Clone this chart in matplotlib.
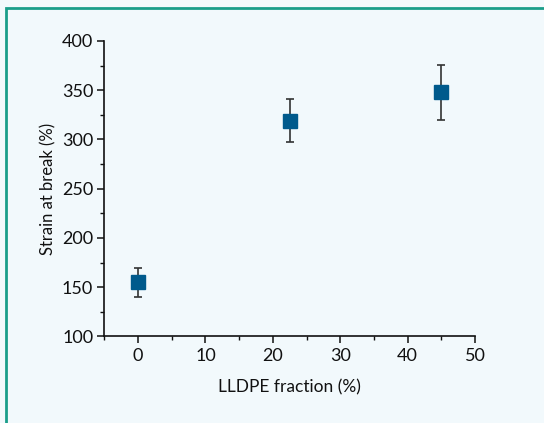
import matplotlib
matplotlib.use("Agg")
import matplotlib.pyplot as plt
from matplotlib.patches import Rectangle
from matplotlib.ticker import MultipleLocator

# LLDPE content vs. elongation at break
lldpe_frac = [0, 22.5, 45]
strain = [155, 319, 348]
strain_err = [15, 22, 28]

plt.rcParams['font.family'] = ['Lato', 'DejaVu Sans']

BG = '#f2f9fc'
fig = plt.figure(figsize=(5.44, 4.23), dpi=100, facecolor=BG)

# teal panel frame (open on the right and bottom edges)
fig.patches.append(Rectangle((6 / 544, -0.1), 1.2, 1.1 - 8 / 423,
                             transform=fig.transFigure, fill=False,
                             edgecolor='#1a9e8a', linewidth=2.0, zorder=0))

ax = fig.add_axes([0.1917, 0.2045, 0.6815, 0.6986])
ax.set_facecolor(BG)

ax.errorbar(lldpe_frac, strain, yerr=strain_err, fmt='s', color='#005a8c',
            markersize=10, ecolor='#333333', elinewidth=1.2, capsize=3,
            capthick=1.2, zorder=3)

ax.set_xlim(-5, 50)
ax.set_ylim(100, 400)
ax.xaxis.set_major_locator(MultipleLocator(10))
ax.xaxis.set_minor_locator(MultipleLocator(5))
ax.yaxis.set_major_locator(MultipleLocator(50))
ax.yaxis.set_minor_locator(MultipleLocator(25))

for side in ('top', 'right'):
    ax.spines[side].set_visible(False)
for side in ('left', 'bottom'):
    ax.spines[side].set_linewidth(1.2)
    ax.spines[side].set_color('#111111')

ax.tick_params(which='major', direction='out', length=5, width=1.1,
               labelsize=13, colors='#111111', pad=3)
ax.tick_params(which='minor', direction='out', length=3, width=1.0,
               colors='#111111')

ax.set_xlabel('LLDPE fraction (%)', fontsize=12.5, color='#111111', labelpad=11)
ax.set_ylabel('Strain at break (%)', fontsize=12, color='#111111', labelpad=4)

fig.savefig('out.png', dpi=100, facecolor=BG)
